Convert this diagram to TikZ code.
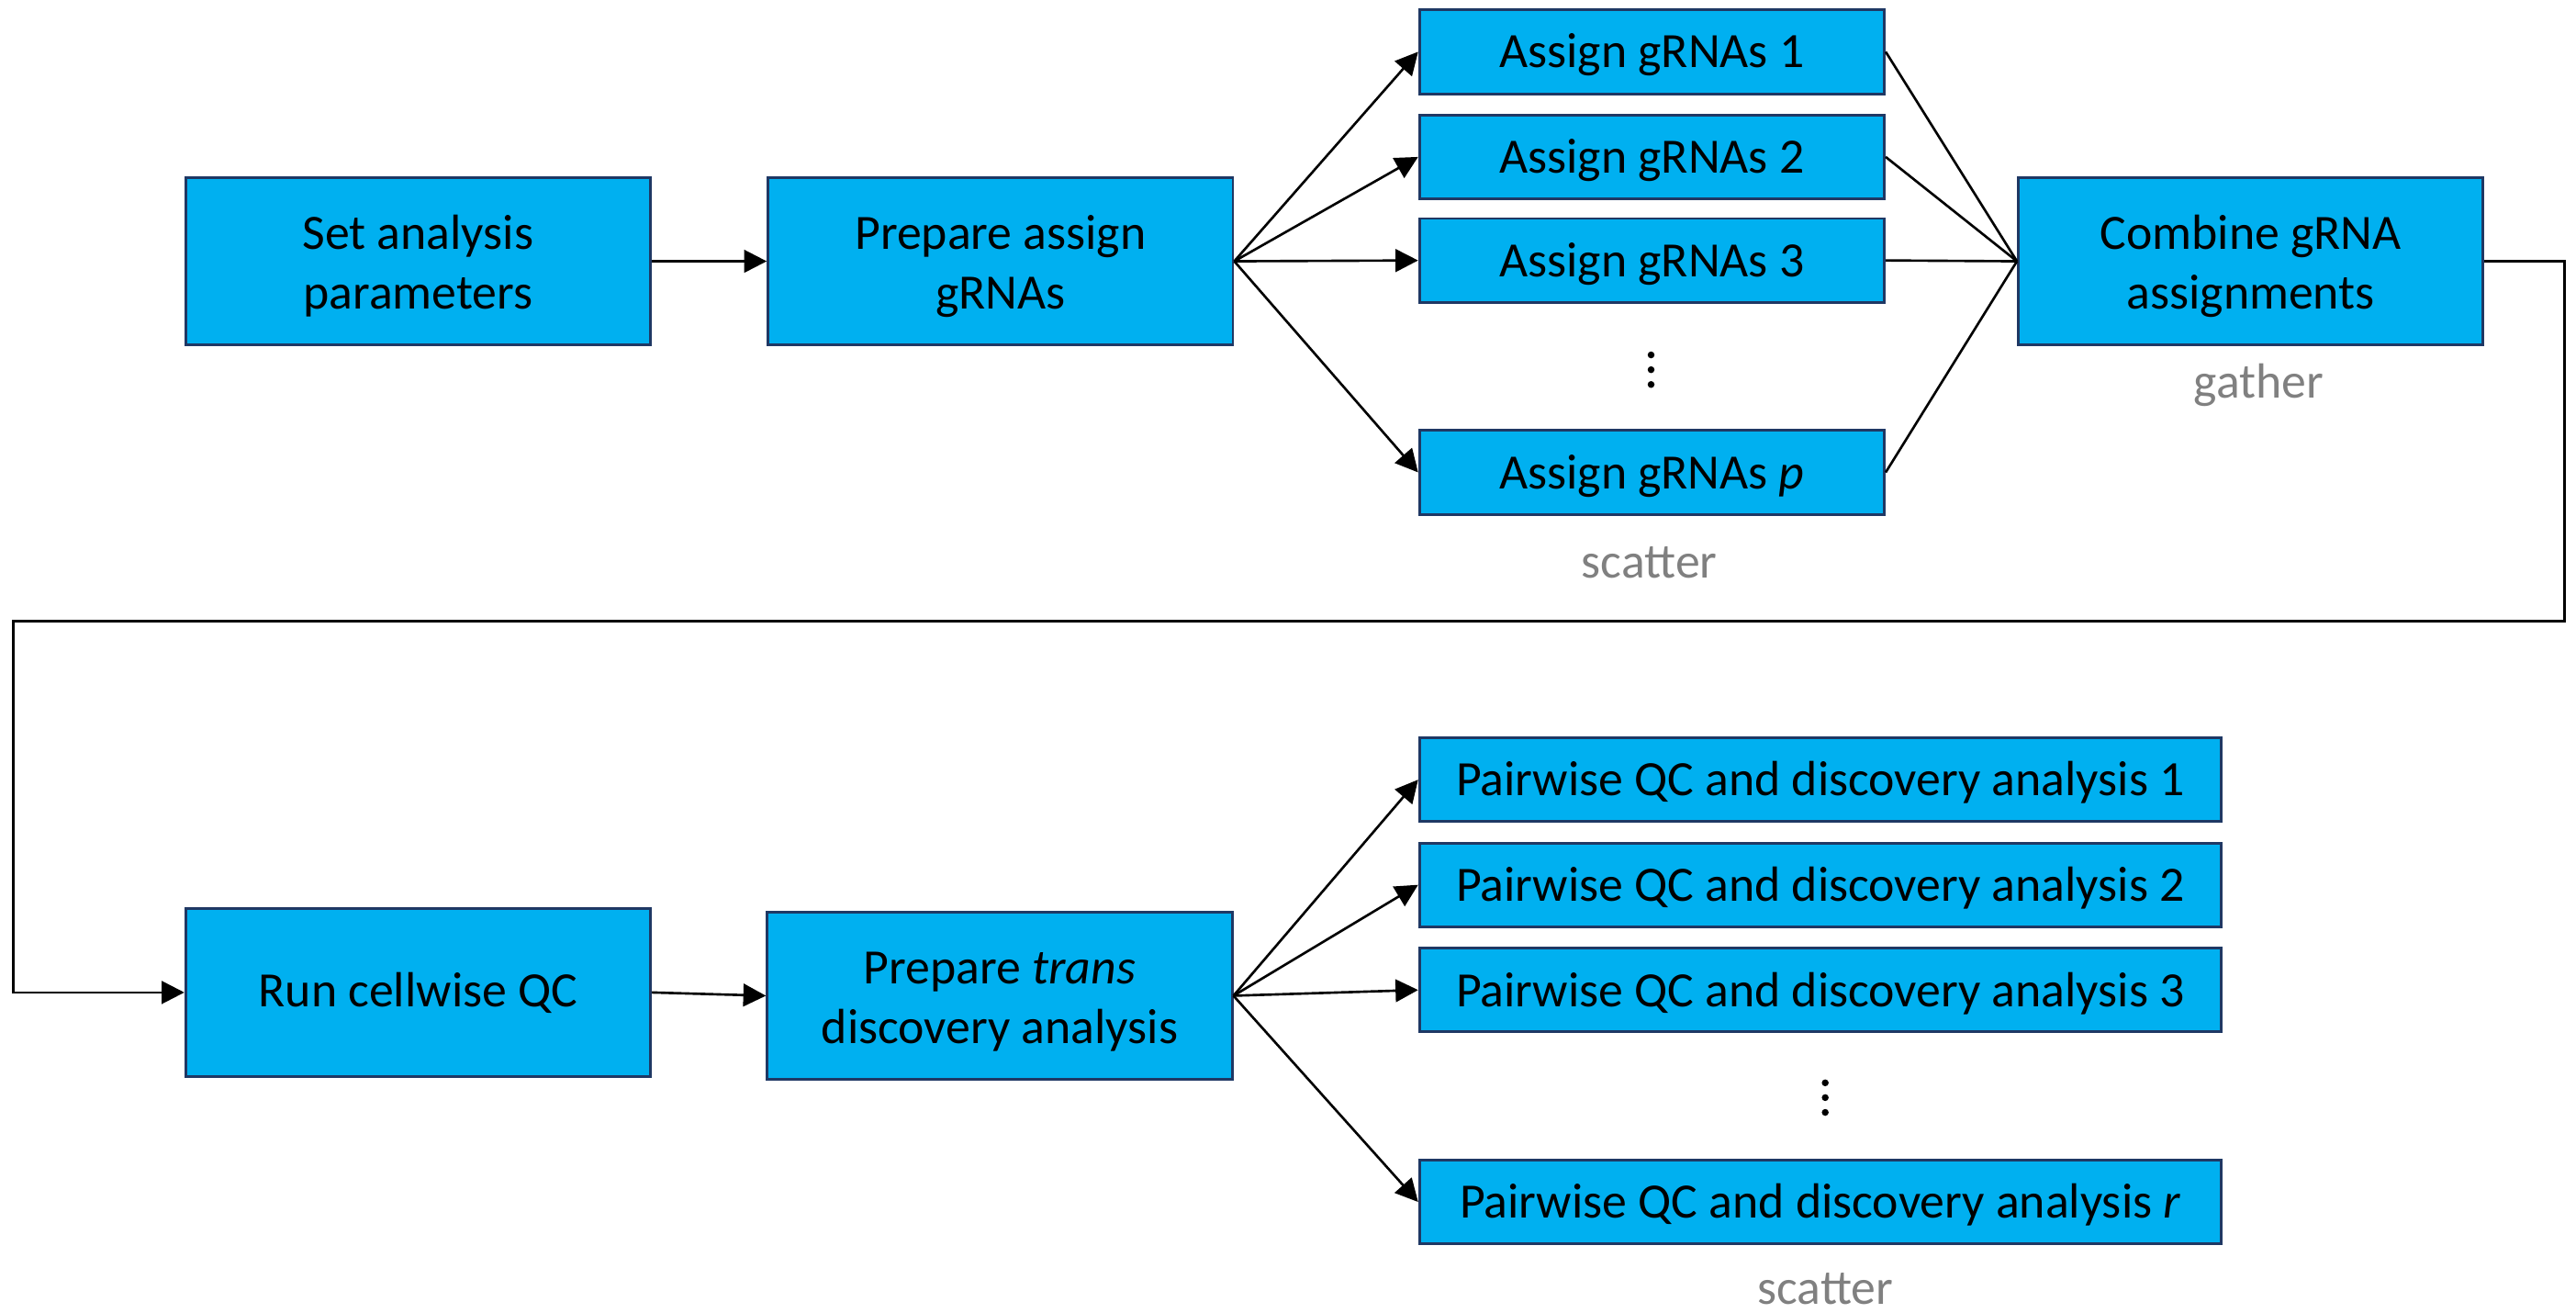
\documentclass[tikz,border=0pt]{standalone}
\usepackage{fontspec}
\setmainfont{Carlito}
\usetikzlibrary{arrows.meta}
\definecolor{boxfill}{HTML}{00B0F0}
\definecolor{boxline}{HTML}{1F3864}
\definecolor{lblgray}{HTML}{808080}
\newcommand{\toprule}{\rule{0pt}{13.6pt}}
\begin{document}
\begin{tikzpicture}[x=0.017895cm,y=-0.017895cm,
  box/.style={draw=boxline,fill=boxfill,line width=0.85pt,inner sep=0pt,align=center,
              font=\fontsize{15.3}{18.5}\selectfont},
  bigbox/.style={box,minimum width=5.064cm,minimum height=1.825cm},
  smallbox/.style={box,minimum width=5.064cm,minimum height=0.913cm,
              execute at begin node={\rule{0pt}{12.6pt}}},
  widebox/.style={box,minimum width=8.733cm,minimum height=0.913cm,
              execute at begin node={\rule{0pt}{12.6pt}}},
  arr/.style={line width=0.75pt,-{Triangle[length=7pt,width=7pt]}},
  ln/.style={line width=0.75pt},
  lbl/.style={text=lblgray,font=\fontsize{15.3}{18.5}\selectfont,inner sep=0pt,anchor=base},
  vdot/.style={circle,fill=black,inner sep=0pt,minimum size=0.075cm}]
\path[use as bounding box] (0,0) rectangle (1568,799);

% top row
\node[bigbox] (set)  at (254.5,159) {\toprule Set analysis\\parameters};
\node[bigbox] (prep) at (609,159) {\toprule Prepare assign\\gRNAs};
\node[smallbox] (a1) at (1005.5,31.5) {Assign gRNAs 1};
\node[smallbox] (a2) at (1005.5,95.5) {Assign gRNAs 2};
\node[smallbox] (a3) at (1005.5,158.5) {Assign gRNAs 3};
\node[smallbox] (ap) at (1005.5,287.5) {Assign gRNAs \textit{p}};
\node[vdot] (ad1) at (1005,216) {};
\node[vdot] (ad2) at (1005,225) {};
\node[vdot] (ad3) at (1005,234) {};
\node[lbl] (sc1) at (1004,352) {scatter};
\node[bigbox] (comb) at (1370,159) {\toprule Combine gRNA\\assignments};
\node[lbl] (ga) at (1375,242) {gather};

% bottom row
\node[bigbox] (run)   at (254.5,604) {Run cellwise QC};
\node[bigbox] (prept) at (608.5,606) {\toprule Prepare \textit{trans}\\discovery analysis};
\node[widebox] (q1) at (1108,474.5) {Pairwise QC and discovery analysis 1};
\node[widebox] (q2) at (1108,538.5) {Pairwise QC and discovery analysis 2};
\node[widebox] (q3) at (1108,602.5) {Pairwise QC and discovery analysis 3};
\node[widebox] (qr) at (1108,731.5) {Pairwise QC and discovery analysis \textit{r}};
\node[vdot] (qd1) at (1111,659) {};
\node[vdot] (qd2) at (1111,668) {};
\node[vdot] (qd3) at (1111,677) {};
\node[lbl] (sc2) at (1111,794) {scatter};

\coordinate (r1) at (1561,378);
\coordinate (l1) at (8,378);

% connectors
\draw[arr] (set.east) -- (prep.west);
\draw[arr] (prep.east) -- (a1.west);
\draw[arr] (prep.east) -- (a2.west);
\draw[arr] (prep.east) -- (a3.west);
\draw[arr] (prep.east) -- (ap.west);
\draw[ln] (a1.east) -- (comb.west);
\draw[ln] (a2.east) -- (comb.west);
\draw[ln] (a3.east) -- (comb.west);
\draw[ln] (ap.east) -- (comb.west);
\draw[arr] (comb.east) -| (r1) -- (l1) |- (run.west);
\draw[arr] (run.east) -- (prept.west);
\draw[arr] (prept.east) -- (q1.west);
\draw[arr] (prept.east) -- (q2.west);
\draw[arr] (prept.east) -- (q3.west);
\draw[arr] (prept.east) -- (qr.west);
\end{tikzpicture}
\end{document}
